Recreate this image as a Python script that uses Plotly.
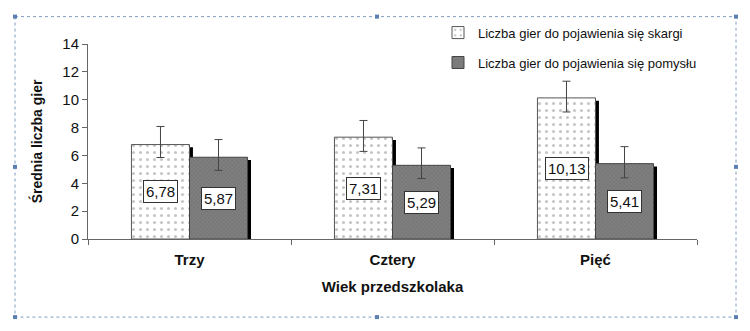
import plotly.graph_objects as go

categories = ["Trzy", "Cztery", "Pięć"]
skarga = [6.78, 7.31, 10.13]
pomysl = [5.87, 5.29, 5.41]
skarga_err_plus = [1.3, 1.2, 1.2]
skarga_err_minus = [0.93, 1.02, 1.01]
pomysl_err_plus = [1.27, 1.25, 1.22]
pomysl_err_minus = [0.94, 0.95, 1.02]
skarga_labels = ["6,78", "7,31", "10,13"]
pomysl_labels = ["5,87", "5,29", "5,41"]
series_names = ["Liczba gier do pojawienia się skargi", "Liczba gier do pojawienia się pomysłu"]
y_ticks = [0, 2, 4, 6, 8, 10, 12, 14]

FONT = "Liberation Sans, Arial, sans-serif"
BW = 0.286
SH = 0.017

fig = go.Figure()

# shadows
for vals, off in [(skarga, -BW), (pomysl, 0.0)]:
    fig.add_trace(go.Bar(
        x=categories, y=vals, base=[-0.2] * len(vals), width=BW, offset=off + SH,
        marker=dict(color="black", line=dict(width=0)), showlegend=False, hoverinfo="skip"))

fig.add_trace(go.Bar(
    x=categories, y=skarga, name=series_names[0], width=BW, offset=-BW,
    marker=dict(color="white", line=dict(color="#555555", width=1),
                pattern=dict(shape=".", fgcolor="#8a8a8a", bgcolor="white", size=7, solidity=0.15)),
    error_y=dict(type="data", symmetric=False, array=skarga_err_plus, arrayminus=skarga_err_minus,
                 color="#444444", thickness=1, width=4),
    legendgroup="a"))
fig.add_trace(go.Bar(
    x=categories, y=pomysl, name=series_names[1], width=BW, offset=0.0,
    marker=dict(color="#7c7c7c", line=dict(color="#444444", width=1),
                pattern=dict(shape="x", fgcolor="#969696", bgcolor="#787878", size=3, solidity=0.3)),
    error_y=dict(type="data", symmetric=False, array=pomysl_err_plus, arrayminus=pomysl_err_minus,
                 color="#444444", thickness=1, width=4),
    legendgroup="b"))

annotations = []
for i, c in enumerate(categories):
    for vals, labs, shift in [(skarga, skarga_labels, -29), (pomysl, pomysl_labels, 29)]:
        annotations.append(dict(
            x=c, y=vals[i] / 2, xref="x", yref="y", xshift=shift, text=labs[i], showarrow=False,
            font=dict(family=FONT, size=15, color="#111111"), bgcolor="white",
            bordercolor="#333333", borderwidth=1, borderpad=2))

# outer dotted frame with handles (paper coords)
L, R, T, B = 88, 697, 43.5, 239.5
W, H = R - L, B - T
def px(x):
    return (x - L) / W
def py(y):
    return (B - y) / H

shapes = [dict(type="rect", xref="paper", yref="paper", x0=px(15), x1=px(736), y0=py(16), y1=py(318),
               line=dict(color="#7f9cc0", width=1, dash="dot"), layer="below")]
for hx in [15, 377, 736]:
    for hy in [16, 167, 318]:
        if hx == 377 and hy == 167:
            continue
        shapes.append(dict(type="rect", xref="paper", yref="paper", x0=px(hx - 2), x1=px(hx + 2),
                           y0=py(hy - 2), y1=py(hy + 2), fillcolor="#5a7fb0", line=dict(width=0)))

fig.update_layout(
    width=750, height=331, barmode="overlay",
    margin=dict(l=L, r=750 - R, t=T, b=331 - B),
    paper_bgcolor="white", plot_bgcolor="white",
    font=dict(family=FONT, color="#111111"),
    xaxis=dict(showline=True, linecolor="#666666", ticks="outside", tickson="boundaries",
               ticklen=5, tickcolor="#666666", showgrid=False, ticklabelstandoff=7,
               tickfont=dict(size=15, family=FONT, weight="bold"),
               title=dict(text="<b>Wiek przedszkolaka</b>", font=dict(size=15, family=FONT), standoff=14)),
    yaxis=dict(range=[0, 14], tickvals=y_ticks, showline=True, linecolor="#666666", ticks="outside",
               ticklen=5, tickcolor="#666666", showgrid=False, zeroline=False,
               tickfont=dict(size=15, family=FONT),
               title=dict(text="<b>Średnia liczba gier</b>", font=dict(size=14, family=FONT), standoff=16)),
    legend=dict(x=px(438), y=py(17), xanchor="left", yanchor="top", bgcolor="rgba(0,0,0,0)",
                font=dict(size=13, family=FONT), tracegroupgap=10, itemwidth=30),
    annotations=annotations, shapes=shapes,
)

fig.write_html("out.html")
